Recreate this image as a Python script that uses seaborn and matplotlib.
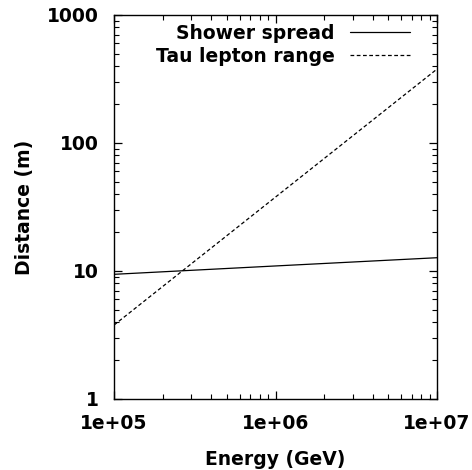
import matplotlib
matplotlib.use("Agg")
import matplotlib.pyplot as plt
import seaborn as sns
import numpy as np
import pandas as pd
from matplotlib.ticker import LogLocator, NullFormatter, FixedLocator, FixedFormatter
from matplotlib.lines import Line2D

energy = [1e5, 1e6, 1e7]
shower_spread = [9.42, 10.95, 12.7]
tau_range = [3.78, 37.8, 378.0]
series_names = ["Shower spread", "Tau lepton range"]
x_ticks = [1e5, 1e6, 1e7]
x_ticklabels = ["1e+05", "1e+06", "1e+07"]
y_ticks = [1, 10, 100, 1000]
y_ticklabels = ["1", "10", "100", "1000"]

sns.set_style("ticks")
plt.rcParams['font.family'] = ['DejaVu Sans']
plt.rcParams['font.weight'] = 'bold'
plt.rcParams['text.color'] = 'black'
plt.rcParams['axes.labelcolor'] = 'black'
plt.rcParams['xtick.color'] = 'black'
plt.rcParams['ytick.color'] = 'black'
plt.rcParams['xtick.labelcolor'] = 'black'
plt.rcParams['ytick.labelcolor'] = 'black'

df = pd.DataFrame({
    "Energy": energy * 2,
    "Distance": shower_spread + tau_range,
    "Series": [series_names[0]] * len(energy) + [series_names[1]] * len(energy),
})

fig = plt.figure(figsize=(4.72, 4.70), dpi=100)
ax = fig.add_axes([114 / 472, 1 - 399 / 470, (437 - 114) / 472, (399 - 15) / 470])

sns.lineplot(data=df, x="Energy", y="Distance", hue="Series", style="Series",
             palette={series_names[0]: "black", series_names[1]: "black"},
             dashes={series_names[0]: "", series_names[1]: (3, 2)},
             linewidth=0.9, ax=ax, legend=False)

ax.set_xscale("log")
ax.set_yscale("log")
ax.set_xlim(1e5, 1e7)
ax.set_ylim(1, 1000)

ax.xaxis.set_major_locator(FixedLocator(x_ticks))
ax.xaxis.set_major_formatter(FixedFormatter(x_ticklabels))
ax.yaxis.set_major_locator(FixedLocator(y_ticks))
ax.yaxis.set_major_formatter(FixedFormatter(y_ticklabels))
ax.xaxis.set_minor_locator(LogLocator(base=10, subs=np.arange(2, 10)))
ax.yaxis.set_minor_locator(LogLocator(base=10, subs=np.arange(2, 10)))
ax.xaxis.set_minor_formatter(NullFormatter())
ax.yaxis.set_minor_formatter(NullFormatter())

ax.tick_params(which="both", direction="in", top=True, right=True, color="black")
ax.tick_params(which="major", length=6, width=0.9, pad=11, labelsize=13.5, labelcolor="black")
ax.tick_params(which="minor", length=3.5, width=0.8)
for lbl in ax.get_xticklabels() + ax.get_yticklabels():
    lbl.set_fontweight("bold")
for sp in ax.spines.values():
    sp.set_linewidth(1.0)
    sp.set_color("black")

ax.set_xlabel("Energy (GeV)", fontsize=13.5, fontweight="bold", labelpad=12, color="black")
ax.set_ylabel("Distance (m)", fontsize=13.5, fontweight="bold", labelpad=9, color="black")

handles = [Line2D([], [], color="black", lw=0.9),
           Line2D([], [], color="black", lw=0.9, dashes=(3, 2))]
leg = ax.legend(handles, series_names, loc="upper right", bbox_to_anchor=(0.916, 0.977),
                markerfirst=False, frameon=False, handlelength=3.2, handletextpad=0.8,
                labelspacing=0.2, borderaxespad=0, borderpad=0,
                prop={"weight": "bold", "size": 13.5})
for t in leg.get_texts():
    t.set_color("black")

fig.savefig("out.png", dpi=100)
